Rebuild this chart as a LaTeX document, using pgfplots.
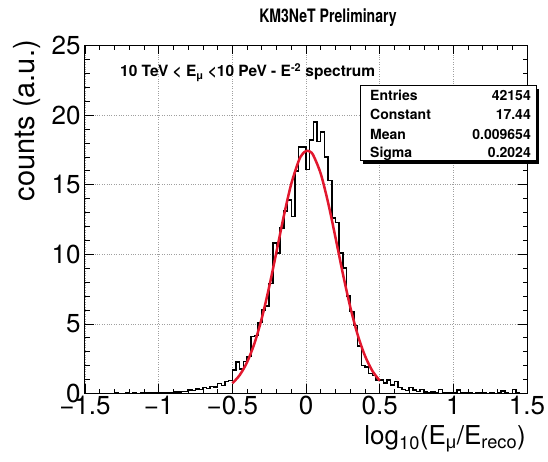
\documentclass[border=0pt]{standalone}
\usepackage{pgfplots}
\pgfplotsset{compat=1.18}
\usepackage{fontspec}
\setmainfont{TeX Gyre Heros}
\newfontfamily\greekfont{Liberation Sans}
\definecolor{fitred}{RGB}{226,24,46}
\pgfplotstableread{
x y
-1.500 0
-1.475 0
-1.450 0
-1.425 0
-1.400 0
-1.375 0
-1.350 0
-1.325 0
-1.300 0.02
-1.275 0
-1.250 0
-1.225 0.02
-1.200 0
-1.175 0.02
-1.150 0
-1.125 0.02
-1.100 0.03
-1.075 0.02
-1.050 0.05
-1.025 0.03
-1.000 0.06
-0.975 0.05
-0.950 0.08
-0.925 0.06
-0.900 0.12
-0.875 0.10
-0.850 0.16
-0.825 0.14
-0.800 0.26
-0.775 0.22
-0.750 0.32
-0.725 0.30
-0.700 0.42
-0.675 0.35
-0.650 0.50
-0.625 0.45
-0.600 0.72
-0.575 0.58
-0.550 0.86
-0.525 0.95
-0.500 1.70
-0.475 2.25
-0.450 1.75
-0.425 2.30
-0.400 2.65
-0.375 4.10
-0.350 4.15
-0.325 5.10
-0.300 6.00
-0.275 6.30
-0.250 7.90
-0.225 10.80
-0.200 10.10
-0.175 11.90
-0.150 13.10
-0.125 13.90
-0.100 12.70
-0.075 16.00
-0.050 17.70
-0.025 17.70
0.000 16.10
0.025 18.20
0.050 19.50
0.075 18.10
0.100 18.80
0.125 17.00
0.150 15.30
0.175 12.60
0.200 12.30
0.225 10.10
0.250 9.00
0.275 7.00
0.300 5.90
0.325 4.90
0.350 3.40
0.375 2.00
0.400 1.90
0.425 1.45
0.450 1.30
0.475 0.97
0.500 0.97
0.525 0.75
0.550 0.97
0.575 0.61
0.600 0.85
0.625 0.42
0.650 0.30
0.675 0.22
0.700 0.42
0.725 0.25
0.750 0.15
0.775 0.30
0.800 0.12
0.825 0.08
0.850 0.10
0.875 0.08
0.900 0.30
0.925 0.06
0.950 0.05
0.975 0.04
1.000 0.08
1.025 0.25
1.050 0.04
1.075 0.02
1.100 0.03
1.125 0.00
1.150 0.02
1.175 0.05
1.200 0.02
1.225 0.00
1.250 0.02
1.275 0.00
1.300 0.03
1.325 0.18
1.350 0.02
1.375 0.00
1.400 0.30
1.425 0.02
1.450 0.00
1.475 0.00
1.500 0.00
}\histdata
\pgfplotstableread{
x y
-0.500 0.732
-0.450 1.323
-0.400 2.248
-0.350 3.597
-0.300 5.411
-0.250 7.660
-0.200 10.20
-0.150 12.78
-0.100 15.06
-0.050 16.70
-0.025 17.19
0.000 17.42
0.025 17.39
0.050 17.10
0.100 15.79
0.150 13.71
0.200 11.21
0.250 8.617
0.300 6.233
0.350 4.241
0.400 2.715
0.450 1.636
0.500 0.927
}\fitdata
\begin{document}
\begin{tikzpicture}
\begin{axis}[
  scale only axis, width=442pt, height=348pt,
  xmin=-1.5, xmax=1.5, ymin=0, ymax=25,
  xtick={-1.5,-1,-0.5,0,0.5,1,1.5},
  xticklabels={−1.5,−1,−0.5,0,0.5,1,1.5},
  ytick={0,5,10,15,20,25},
  yticklabels={0,5,10,15,20,25},
  minor x tick num=4, minor y tick num=4,
  tick align=inside,
  xtick pos=both, ytick pos=both,
  xticklabel pos=bottom, yticklabel pos=left,
  major tick length=9pt, minor tick length=4.5pt,
  grid=major,
  major grid style={dotted, gray!75, line width=0.7pt},
  tick style={black, line width=0.7pt},
  axis line style={black, line width=1pt},
  ticklabel style={font=\fontsize{26}{28}\selectfont},
  xticklabel style={yshift=1pt},
  yticklabel style={xshift=-1pt},
  clip=false,
]
\addplot[const plot mark left, black, line width=1.5pt, mark=none] table[x=x,y=y] {\histdata};
\addplot[smooth, fitred, line width=2.5pt, mark=none] table[x=x,y=y] {\fitdata};
\coordinate (O) at (rel axis cs:0,0);
\end{axis}
\pgfresetboundingbox
\useasboundingbox ([xshift=-85pt,yshift=-68.5pt]O) rectangle ([xshift=463pt,yshift=393.5pt]O);
\begin{scope}[shift={(O)}, xshift=-85pt, yshift=-68.5pt, x=1pt, y=1pt]
% title
\node[anchor=base, inner sep=0pt, font=\bfseries\fontsize{18.5}{20}\selectfont] at (328,439) {\scalebox{0.76}[1]{KM3NeT Preliminary}};
% inner text
\node[anchor=base west, inner sep=0pt, font=\bfseries\fontsize{15.5}{17}\selectfont] at (120,385)
  {10 TeV < E\textsubscript{\greekfont μ} <10 PeV - E\textsuperscript{-2} spectrum};
% stats box
\fill[black] (363,298) rectangle (539,373);
\draw[black, fill=white, line width=1pt] (360,301) rectangle (536,376);
\begin{scope}[every node/.style={inner sep=0pt, font=\bfseries\fontsize{14}{16}\selectfont}]
\node[anchor=base west] at (370,361) {Entries};
\node[anchor=base east] at (531,361) {42154};
\node[anchor=base west] at (370,342) {Constant};
\node[anchor=base east] at (531,342) {17.44};
\node[anchor=base west] at (370,322) {Mean};
\node[anchor=base east] at (531,322) {0.009654};
\node[anchor=base west] at (370,304) {Sigma};
\node[anchor=base east] at (531,304) {0.2024};
\end{scope}
% axis labels
\node[anchor=base east, inner sep=0pt, font=\fontsize{26}{28}\selectfont] at (526,17)
  {log\textsubscript{10}(E\textsubscript{\greekfont μ}/E\textsubscript{reco})};
\node[anchor=base east, rotate=90, inner sep=0pt, font=\fontsize{29}{31}\selectfont] at (35,422) {counts (a.u.)};
\end{scope}
\end{tikzpicture}
\end{document}
